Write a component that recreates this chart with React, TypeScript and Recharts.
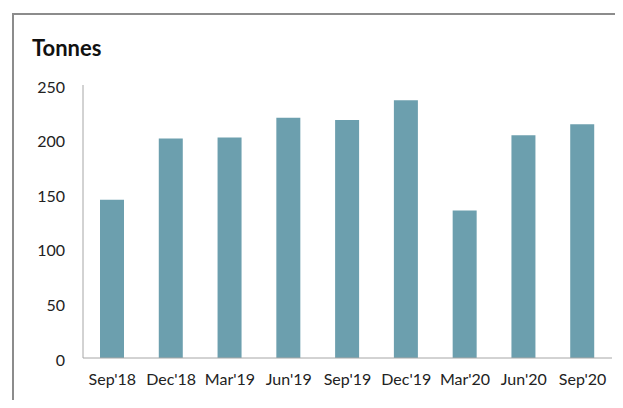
import React from "react";
import { BarChart, Bar, XAxis, YAxis } from "recharts";

const categories = ["Sep'18", "Dec'18", "Mar'19", "Jun'19", "Sep'19", "Dec'19", "Mar'20", "Jun'20", "Sep'20"];
const tonnes = [145, 201, 202, 220, 218, 236, 135, 204, 214];
const yTicks = [0, 50, 100, 150, 200, 250];

const data = categories.map((c, i) => ({ name: c, value: tonnes[i] }));

const FONT = "Lato, 'Open Sans', sans-serif";

export default function App() {
  return (
    <div style={{ position: "relative", width: 607, height: 392, fontFamily: FONT }}>
      <div
        style={{
          position: "absolute",
          left: 4,
          top: 5,
          width: 611,
          height: 2,
          background: "#8c8c8c",
        }}
      />
      <div
        style={{
          position: "absolute",
          left: 4,
          top: 5,
          width: 2,
          height: 395,
          background: "#8c8c8c",
        }}
      />
      <div
        style={{
          position: "absolute",
          left: 24,
          top: 28,
          fontSize: 22,
          fontWeight: 700,
          color: "#111",
          lineHeight: "24px",
        }}
      >
        Tonnes
      </div>
      <div style={{ position: "absolute", left: 0, top: 0 }}>
        <BarChart
          width={607}
          height={392}
          data={data}
          margin={{ top: 77, right: 3, bottom: 12, left: 0 }}
        >
          <XAxis
            dataKey="name"
            axisLine={{ stroke: "#a6a6a6" }}
            tickLine={false}
            tickSize={0}
            tickMargin={16}
            height={30}
            interval={0}
            tick={{ fill: "#222", fontSize: 16, fontFamily: FONT }}
          />
          <YAxis
            domain={[0, 250]}
            ticks={yTicks}
            width={75}
            axisLine={{ stroke: "#a6a6a6" }}
            tickLine={false}
            tickSize={0}
            tickMargin={18}
            tick={{ fill: "#222", fontSize: 16, fontFamily: FONT, dy: 2 }}
          />
          <Bar dataKey="value" fill="#6c9fae" barSize={24} isAnimationActive={false} />
        </BarChart>
      </div>
    </div>
  );
}
